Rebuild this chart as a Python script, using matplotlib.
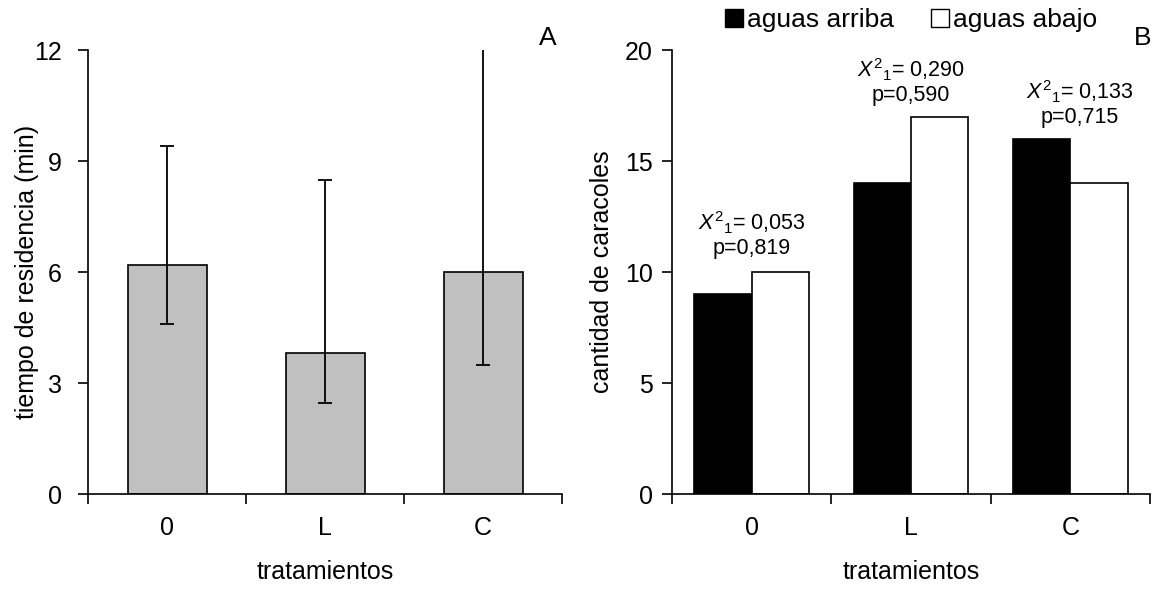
import numpy as np
import matplotlib
matplotlib.use("Agg")
import matplotlib.pyplot as plt
from matplotlib.patches import Patch

plt.rcParams['font.family'] = ['Liberation Sans', 'DejaVu Sans']
plt.rcParams['mathtext.fontset'] = 'custom'
plt.rcParams['mathtext.rm'] = 'Liberation Sans'
plt.rcParams['mathtext.it'] = 'Liberation Sans:italic'

# datos
tratamientos = ['0', 'L', 'C']
tiempo = [6.2, 3.8, 6.0]
err_inf = [1.6, 1.35, 2.5]
err_sup = [3.2, 4.7, 7.0]

arriba = [9, 14, 16]
abajo = [10, 17, 14]
chi2 = ['0,053', '0,290', '0,133']
pval = ['0,819', '0,590', '0,715']
texto_y = [11.7, 18.6, 17.6]

fs = 18

fig = plt.figure(figsize=(11.54, 5.92), dpi=100)
axA = fig.add_axes([0.0763, 0.1655, 0.4107, 0.75])
axB = fig.add_axes([0.5823, 0.1655, 0.4142, 0.75])

x = np.arange(len(tratamientos))

# panel A
axA.bar(x, tiempo, width=0.5, color='#c0c0c0', edgecolor='black', linewidth=1.2, zorder=2)
axA.errorbar(x, tiempo, yerr=[err_inf, err_sup], fmt='none', ecolor='black',
             elinewidth=1.3, capsize=5, capthick=1.3, zorder=3)
axA.set_ylim(0, 12)
axA.set_yticks([0, 3, 6, 9, 12])
axA.set_ylabel('tiempo de residencia (min)', fontsize=fs, labelpad=-4)
axA.tick_params(axis='y', pad=12)
axA.text(0.97, 1.0, 'A', transform=axA.transAxes, fontsize=fs + 1, ha='center', va='bottom')

# panel B
w = 0.36
axB.bar(x - w/2, arriba, width=w, color='black', edgecolor='black', linewidth=1.2,
        label='aguas arriba', zorder=2)
axB.bar(x + w/2, abajo, width=w, color='white', edgecolor='black', linewidth=1.2,
        label='aguas abajo', zorder=2)
axB.set_ylim(0, 20)
axB.set_yticks([0, 5, 10, 15, 20])
axB.set_ylabel('cantidad de caracoles', fontsize=fs, labelpad=8)
axB.tick_params(axis='y', pad=7)
axB.text(0.985, 1.0, 'B', transform=axB.transAxes, fontsize=fs + 1, ha='center', va='bottom')

dx = [0, 0, 0.06]
for i in range(3):
    axB.text(x[i] + dx[i], texto_y[i], r'$\mathit{X}^{2}{}_{1}$= ' + chi2[i] + '\np=' + pval[i],
             ha='center', va='center', fontsize=15.5, linespacing=1.1)

handles = [Patch(facecolor='black', edgecolor='black'),
           Patch(facecolor='white', edgecolor='black')]
axB.legend(handles, ['aguas arriba', 'aguas abajo'], ncol=2, frameon=False, fontsize=19,
           loc='lower center', bbox_to_anchor=(0.5, 1.04), handlelength=0.7, handleheight=0.7,
           handletextpad=0.15, columnspacing=1.4, borderaxespad=0, borderpad=0)

for ax in (axA, axB):
    ax.set_xlim(-0.5, 2.5)
    ax.set_xticks(x)
    ax.set_xticklabels(tratamientos)
    ax.set_xticks([-0.5, 0.5, 1.5, 2.5], minor=True)
    ax.tick_params(axis='x', which='major', length=0, labelsize=fs, pad=16)
    ax.tick_params(axis='x', which='minor', length=7, width=1.2, direction='out')
    ax.tick_params(axis='y', length=7, width=1.2, labelsize=fs, direction='out')
    ax.set_xlabel('tratamientos', fontsize=fs, labelpad=14)
    for s in ('top', 'right'):
        ax.spines[s].set_visible(False)
    for s in ('left', 'bottom'):
        ax.spines[s].set_linewidth(1.2)

fig.savefig('out.png', dpi=100)
